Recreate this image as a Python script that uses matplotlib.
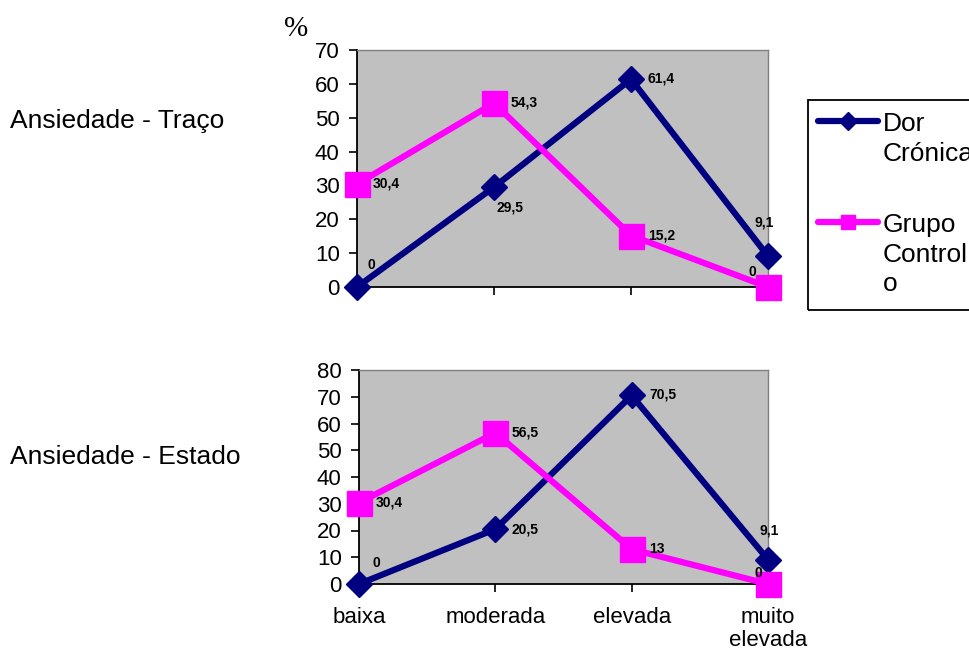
import matplotlib.pyplot as plt
from matplotlib.lines import Line2D
from matplotlib.patches import Rectangle

plt.rcParams['font.family'] = ['Liberation Sans', 'DejaVu Sans']

categories = ['baixa', 'moderada', 'elevada', 'muito\nelevada']
series_names = ['Dor\nCrónica', 'Grupo\nControl\no']

traco_dor = [0, 29.5, 61.4, 9.1]
traco_controlo = [30.4, 54.3, 15.2, 0]
estado_dor = [0, 20.5, 70.5, 9.1]
estado_controlo = [30.4, 56.5, 13, 0]

NAVY = '#000080'
MAGENTA = '#FF00FF'
PLOT_BG = '#C0C0C0'

# label offsets in points (dx, dy) for each point, text anchored left/center
traco_dor_off = [(7.5, 16), (1.5, -15), (12, 0.5), (-10, 24)]
traco_ctl_off = [(11, 0.5), (12, 0.5), (12, 0), (-14, 11)]
estado_dor_off = [(10, 15), (12, 0), (12.5, 0.5), (-6, 21)]
estado_ctl_off = [(12, 0), (12, 0.5), (12.5, 0.5), (-10, 8)]


def fmt(v):
    return ('%g' % v).replace('.', ',')


def draw_panel(ax, dor, ctl, dor_off, ctl_off, ymax):
    x = range(len(categories))
    ax.set_facecolor(PLOT_BG)
    ax.plot(x, dor, color=NAVY, lw=4.5, marker='D', ms=13,
            mec=NAVY, clip_on=False, zorder=3)
    ax.plot(x, ctl, color=MAGENTA, lw=4.5, marker='s', ms=18,
            mec=MAGENTA, clip_on=False, zorder=4)
    for vals, offs in ((dor, dor_off), (ctl, ctl_off)):
        for xi, v, (dx, dy) in zip(x, vals, offs):
            ax.annotate(fmt(v), (xi, v), xytext=(dx, dy),
                        textcoords='offset points', fontsize=10,
                        fontweight='bold', va='center', ha='left',
                        annotation_clip=False, zorder=5)
    ax.set_xlim(0, 3)
    ax.set_ylim(0, ymax)
    ax.set_yticks(range(0, ymax + 1, 10))
    ax.set_xticks(list(x))
    for side in ['top', 'right']:
        ax.spines[side].set_color('#808080')
        ax.spines[side].set_linewidth(1)
    for side in ['left', 'bottom']:
        ax.spines[side].set_color('black')
        ax.spines[side].set_linewidth(1.3)
    ax.tick_params(axis='both', direction='out', length=5.5, width=1.2,
                   labelsize=16, pad=7)


fig = plt.figure(figsize=(9.7, 6.5), dpi=100)

ax1 = fig.add_axes([357 / 970, 1 - 287 / 650, 411 / 970, 237 / 650])
draw_panel(ax1, traco_dor, traco_controlo, traco_dor_off, traco_ctl_off, 70)
ax1.set_xticklabels([])

ax2 = fig.add_axes([359 / 970, 1 - 584 / 650, 409 / 970, 214 / 650])
draw_panel(ax2, estado_dor, estado_controlo, estado_dor_off, estado_ctl_off, 80)
ax2.set_xticklabels(categories, fontsize=16, va='top', linespacing=1.15)
ax2.tick_params(axis='x', pad=11)

fig.text(10 / 970, 1 - 121 / 650, 'Ansiedade - Traço', fontsize=19, va='center')
fig.text(10 / 970, 1 - 457 / 650, 'Ansiedade - Estado', fontsize=19, va='center')
fig.text(284 / 970, 1 - 29 / 650, '%', fontsize=21, va='center',
         family=['Liberation Serif', 'DejaVu Serif'])

# legend box, drawn in figure pixels (right side runs past the edge)
W, H = 970, 650
fig.patches.append(Rectangle((808 / W, 1 - 310 / H), 180 / W, 210 / H,
                             transform=fig.transFigure, fill=False,
                             edgecolor='black', lw=1.3))
legend_rows = [(series_names[0], NAVY, 'D', 9, 121),
               (series_names[1], MAGENTA, 's', 10, 222)]
for label, col, mk, ms, yp in legend_rows:
    fig.lines.append(Line2D([818 / W, 878 / W], [1 - yp / H] * 2,
                            transform=fig.transFigure, color=col, lw=4.5,
                            solid_capstyle='round'))
    fig.lines.append(Line2D([848 / W], [1 - yp / H], transform=fig.transFigure,
                            color=col, marker=mk, ms=ms, mec=col, ls='none'))
    fig.text(883 / W, 1 - (yp - 9) / H, label, fontsize=19, va='top',
             linespacing=1.3)

fig.savefig('out.png', dpi=100, facecolor='white')
